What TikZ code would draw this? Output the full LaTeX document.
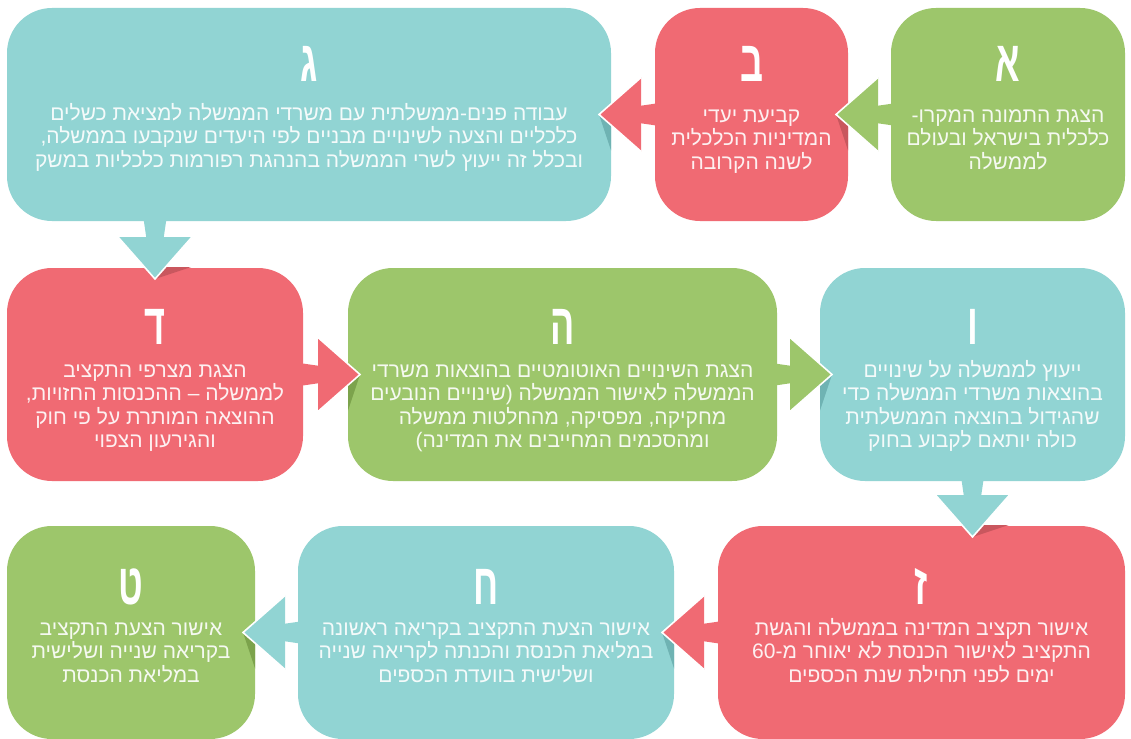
\documentclass[tikz,border=0pt]{standalone}
\usepackage{fontspec}
\usetikzlibrary{calc}
\TeXXeTstate=1
\newfontfamily\hebfont[Script=Hebrew]{Liberation Sans}
\newfontfamily\hebboldfont[Script=Hebrew]{Liberation Sans Bold}
\definecolor{cgreen}{HTML}{9DC66B}
\definecolor{cred}{HTML}{F06A73}
\definecolor{cteal}{HTML}{91D4D3}
\definecolor{dgreen}{HTML}{7CA34C}
\definecolor{dred}{HTML}{C9575E}
\definecolor{dteal}{HTML}{6FB3B3}
\newcommand\rl[1]{\beginR #1\endR}
\newcommand\fl[1]{\rule{0pt}{17pt}\beginR #1\endR}
% #1 tip coordinate, #2 rotation, #3 (unused), #4 fill, #5 shadow, #6 shadow side
\newcommand\flowarrow[6]{%
  \begin{scope}[shift={(#1)}, rotate=#2]
    \fill[#5] (0,0) -- (12,#6*10.6) -- (12,#6*36) -- cycle;
    \fill[#4] (40,-8.5) -- (64,-12) -- (64,12) -- (40,8.5) -- cycle;
    \filldraw[fill=#4, draw=white, line width=1.6pt, line join=miter] (42,-37) -- (0,0) -- (42,37);
  \end{scope}}
\tikzset{
  box/.style={rounded corners=45pt, inner sep=0pt, outer sep=0pt, draw=none, minimum height=213pt},
  letter/.style={text=white, font=\hebboldfont\fontsize{58}{58}\selectfont, inner sep=0pt, anchor=base},
  body/.style={text=white, text opacity=0.9, font=\hebfont\fontsize{21}{23.5}\selectfont, align=center, inner sep=0pt, anchor=north},
}
\begin{document}
\begin{tikzpicture}[x=1pt, y=-1pt]
\useasboundingbox (0,0) rectangle (1131,738);
\fill[white] (0,0) rectangle (1131,738);
% boxes
\node[box, fill=cgreen, minimum width=234pt] (A) at (1008,114.5) {};
\node[box, fill=cred,   minimum width=193pt] (B) at (751.5,114.5) {};
\node[box, fill=cteal,  minimum width=604pt] (C) at (309,114.5) {};
\node[box, fill=cred,   minimum width=296pt] (D) at (155,374.5) {};
\node[box, fill=cgreen, minimum width=429pt] (E) at (562.5,374.5) {};
\node[box, fill=cteal,  minimum width=305pt] (F) at (972.5,374.5) {};
\node[box, fill=cred,   minimum width=407pt] (G) at (921.5,632.5) {};
\node[box, fill=cteal,  minimum width=376pt] (H) at (486,632.5) {};
\node[box, fill=cgreen, minimum width=248pt] (I) at (131,632.5) {};
% arrow tips
\coordinate (tAB) at ($(B.east)+(-12,0)$);
\coordinate (tBC) at ($(C.east)+(-12,0)$);
\coordinate (tCD) at ($(D.north)+(0,11)$);
\coordinate (tDE) at ($(E.west)+(12,0)$);
\coordinate (tEF) at ($(F.west)+(12,0)$);
\coordinate (tFG) at ($(F.south |- G.north)+(0,11)$);
\coordinate (tGH) at ($(H.east)+(-12,0)$);
\coordinate (tHI) at ($(I.east)+(-12,0)$);
\flowarrow{tAB}{0}{}{cgreen}{dred}{1}
\flowarrow{tBC}{0}{}{cred}{dteal}{1}
\flowarrow{tCD}{90}{}{cteal}{dred}{1}
\flowarrow{tDE}{180}{}{cred}{dgreen}{-1}
\flowarrow{tEF}{180}{}{cgreen}{dteal}{-1}
\flowarrow{tFG}{90}{}{cteal}{dred}{1}
\flowarrow{tGH}{0}{}{cred}{dteal}{1}
\flowarrow{tHI}{0}{}{cteal}{dgreen}{1}
% letters
\node[letter] (Al) at ($(A.north)+(0,74)$) {\scalebox{0.62}[1]{א}};
\node[letter] (Bl) at ($(B.north)+(0,74)$) {\scalebox{0.62}[1]{ב}};
\node[letter] (Cl) at ($(C.north)+(0,74)$) {\scalebox{0.62}[1]{ג}};
\node[letter] (Dl) at ($(D.north)+(0,76)$) {\scalebox{0.62}[1]{ד}};
\node[letter] (El) at ($(E.north)+(0,76)$) {\scalebox{0.62}[1]{ה}};
\node[letter] (Fl) at ($(F.north)+(0,76)$) {\scalebox{0.62}[1]{ו}};
\node[letter] (Gl) at ($(G.north)+(0,78)$) {\scalebox{0.62}[1]{ז}};
\node[letter] (Hl) at ($(H.north)+(0,78)$) {\scalebox{0.62}[1]{ח}};
\node[letter] (Il) at ($(I.north)+(0,78)$) {\scalebox{0.62}[1]{ט}};
% texts
\node[body] (At) at ($(A.north)+(0,97)$) {\fl{הצגת התמונה המקרו-}\\\rl{כלכלית בישראל ובעולם}\\\rl{לממשלה}};
\node[body] (Bt) at ($(B.north)+(0,97)$) {\fl{קביעת יעדי}\\\rl{המדיניות הכלכלית}\\\rl{לשנה הקרובה}};
\node[body] (Ct) at ($(C.north)+(0,95)$) {\fl{עבודה פנים-ממשלתית עם משרדי הממשלה למציאת כשלים}\\\rl{כלכליים והצעה לשינויים מבניים לפי היעדים שנקבעו בממשלה,}\\\rl{ובכלל זה ייעוץ לשרי הממשלה בהנהגת רפורמות כלכליות במשק}};
\node[body] (Dt) at ($(D.north)+(0,92)$) {\fl{הצגת מצרפי התקציב}\\\rl{לממשלה – ההכנסות החזויות,}\\\rl{ההוצאה המותרת על פי חוק}\\\rl{והגירעון הצפוי}};
\node[body] (Et) at ($(E.north)+(0,92)$) {\fl{הצגת השינויים האוטומטיים בהוצאות משרדי}\\\rl{הממשלה לאישור הממשלה (שינויים הנובעים}\\\rl{מחקיקה, מפסיקה, מהחלטות ממשלה}\\\rl{ומהסכמים המחייבים את המדינה)}};
\node[body] (Ft) at ($(F.north)+(0,92)$) {\fl{ייעוץ לממשלה על שינויים}\\\rl{בהוצאות משרדי הממשלה כדי}\\\rl{שהגידול בהוצאה הממשלתית}\\\rl{כולה יותאם לקבוע בחוק}};
\node[body] (Gt) at ($(G.north)+(0,92)$) {\fl{אישור תקציב המדינה בממשלה והגשת}\\\rl{התקציב לאישור הכנסת לא יאוחר מ-60}\\\rl{ימים לפני תחילת שנת הכספים}};
\node[body] (Ht) at ($(H.north)+(0,92)$) {\fl{אישור הצעת התקציב בקריאה ראשונה}\\\rl{במליאת הכנסת והכנתה לקריאה שנייה}\\\rl{ושלישית בוועדת הכספים}};
\node[body] (It) at ($(I.north)+(0,92)$) {\fl{אישור הצעת התקציב}\\\rl{בקריאה שנייה ושלישית}\\\rl{במליאת הכנסת}};
\end{tikzpicture}
\end{document}
